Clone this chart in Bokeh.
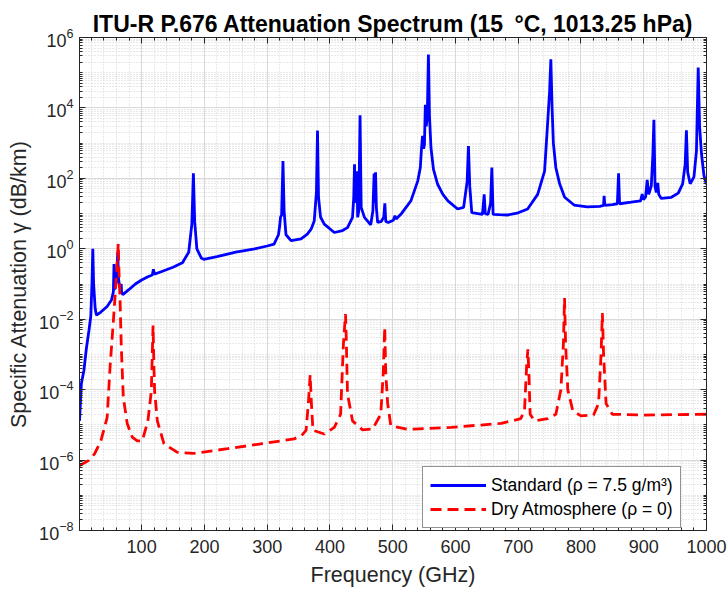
from bokeh.plotting import figure
from bokeh.models import (Range1d, FixedTicker, LinearAxis, LogAxis, Legend, LegendItem,
                          CustomJSTickFormatter)
from bokeh.embed import file_html
from bokeh.resources import INLINE

# ---------------- data ----------------
std_freq = [1, 4, 8, 12, 16, 19, 21, 22.2, 23.5, 26, 28, 35, 45, 52, 55, 56, 57, 59, 60.5,
            62, 63, 65, 67.5, 68, 70, 80, 90, 100, 110, 117, 118.75, 120.5, 130, 150, 165,
            175, 180, 182.5, 184.5, 188, 195, 199, 220, 250, 280, 300, 311, 318, 320, 321.2,
            323, 325.2, 327, 330, 338, 354, 364, 370, 375, 378.5, 380.2, 381.8, 385, 391, 407,
            420, 428, 436, 438, 439.2, 440.5, 441.5, 443, 444.2, 446, 448, 449.8, 455, 465,
            468.5, 470.4, 471.6, 472.7, 474, 476, 482, 485.8, 487.5, 489, 493, 501, 503.6,
            505.5, 513, 529, 540, 544, 546, 547.6, 549.2, 550.6, 552, 553.5, 555.2, 556.9,
            558.6, 561, 565, 571.6, 580, 588, 603.5, 613, 618.6, 620.7, 622.8, 626, 643,
            645.8, 647.5, 652, 656, 658, 660, 670, 683, 700, 715, 731, 742, 747, 750, 752.0,
            754, 756, 760, 766, 774, 789, 810, 830, 836, 836.9, 838, 850, 858, 859.9, 861.5,
            880, 895, 897.5, 899.5, 903, 905.5, 908, 912, 914.5, 916.2, 918, 920, 922.3, 924,
            928, 944, 955, 962, 966, 968, 970, 974, 980, 984, 986.8, 989, 992, 996, 1000]
std_gamma = [1.3e-5, 1.5e-4, 3.5e-4, 1.5e-3, 4.7e-3, 1.2e-2, 0.12, 1.0, 0.1, 0.02, 0.013,
             0.016, 0.023, 0.035, 0.06, 0.37, 0.07, 0.1, 0.2, 0.8, 0.15, 0.08, 0.1, 0.06,
             0.05, 0.07, 0.1, 0.13, 0.16, 0.18, 0.26, 0.19, 0.22, 0.3, 0.4, 0.8, 5, 140, 6,
             1.0, 0.55, 0.5, 0.6, 0.8, 1.0, 1.2, 1.35, 2.5, 4.5, 7.8, 9, 310, 12, 2.5, 1.7,
             1.9, 2.6, 3.6, 6.2, 40, 2300, 30, 8, 5, 2.9, 3.3, 4, 7.8, 30, 250, 20, 30, 160,
             7.8, 12, 6200, 15, 7.8, 4.8, 12, 138, 20, 148, 15, 5.6, 6, 8, 19.5, 6, 5.6, 6.5,
             8.7, 7, 9.5, 23, 85, 200, 740, 1600, 700, 900, 12300, 3000, 6000, 3.3e5, 6000,
             740, 180, 68, 35, 23, 13.5, 15, 80, 830, 60, 10.7, 9.5, 35, 10, 9.5, 20, 204, 9.5,
             9.3, 9.1, 10.5, 13.5, 35, 160, 4000, 30000, 2.4e5, 10000, 1000, 200, 70, 29, 17.5,
             15.5, 16, 17, 32, 17, 18, 19, 140, 19, 21, 23, 36, 25, 30, 90, 35, 60, 450, 4600,
             60, 40, 75, 35, 27, 29, 38, 70, 250, 2300, 150, 70, 110, 600, 1.4e5, 3000, 500,
             120, 68]

dry_freq = [1, 16, 25, 35, 45, 50, 52, 55, 57.5, 60, 61.5, 62.8, 64, 65.5, 67.6, 70.8, 77, 85,
            93, 101, 110, 115.4, 118.2, 119.5, 120.7, 125, 135.6, 157, 183, 237, 290, 343, 355,
            362, 366, 368.5, 370.5, 373, 391, 407, 417, 421.5, 424.8, 426, 428, 436, 452, 468,
            481, 485, 487.3, 489, 492, 497, 524, 593, 673, 704, 710, 713.5, 715.4, 717, 719,
            726, 747, 760, 768, 772, 773.8, 775.5, 779, 787, 800, 820, 828, 832, 834.1, 836,
            840, 850, 900, 1000]
dry_gamma = [7e-7, 9.8e-7, 1.5e-6, 3.5e-6, 1.6e-5, 5.4e-4, 1.6e-3, 9e-3, 4.2e-2, 0.19, 0.6,
             1.4, 0.2, 4.2e-2, 1.6e-3, 6e-5, 1.1e-5, 4.5e-6, 3.5e-6, 3.5e-6, 1.3e-5, 9e-5,
             6.6e-3, 5e-4, 9e-5, 1.3e-5, 2.9e-6, 1.66e-6, 1.55e-6, 2.1e-6, 2.9e-6, 4e-6, 5e-6,
             7e-6, 5e-5, 2.6e-4, 4e-5, 7e-6, 5.5e-6, 8.5e-6, 2e-5, 2e-3, 1.4e-2, 3e-3, 7.6e-5,
             1.3e-5, 7.2e-6, 7.6e-6, 2e-5, 3e-4, 5.9e-3, 3e-4, 4e-5, 9.5e-6, 7.4e-6, 8.5e-6,
             1.1e-5, 1.5e-5, 2.5e-5, 5e-4, 1.4e-3, 3e-4, 2e-5, 1.3e-5, 1.5e-5, 2e-5, 1e-4,
             2e-3, 4e-2, 2e-3, 1e-4, 2.5e-5, 1.8e-5, 1.9e-5, 4e-5, 1e-3, 1.5e-2, 1e-3, 4e-5,
             2e-5, 1.9e-5, 2e-5]

x_ticks = [100, 200, 300, 400, 500, 600, 700, 800, 900, 1000]
x_minor = [v for v in range(20, 1000, 20) if v % 100 != 0]
y_exponents = [-8, -6, -4, -2, 0, 2, 4, 6]
y_ticks = [10.0 ** e for e in y_exponents]
y_minor = [k * 10.0 ** e for e in range(-8, 6) for k in range(1, 10)
           if not (k == 1 and e in y_exponents)]

series_names = ["Standard (\u03c1 = 7.5 g/m\u00b3)", "Dry Atmosphere (\u03c1 = 0)"]
title_text = "ITU-R P.676 Attenuation Spectrum (15\u2002\u00b0C, 1013.25 hPa)"

# ---------------- figure ----------------
AX = "#262626"
FONT = "Liberation Sans"

p = figure(width=727, height=597, y_axis_type="log", output_backend="svg",
           toolbar_location=None, x_range=Range1d(1, 1000), y_range=Range1d(1e-8, 1e6),
           min_border_left=79, min_border_right=21, min_border_top=37, min_border_bottom=67)

p.title.text = title_text
p.title.align = "center"
p.title.text_font = FONT
p.title.text_font_size = "23px"
p.title.text_font_style = "bold"
p.title.text_color = "black"
p.title.standoff = 1

p.outline_line_color = AX
p.outline_line_width = 1
p.background_fill_color = "white"

xt = FixedTicker(ticks=x_ticks, minor_ticks=x_minor)
yt = FixedTicker(ticks=y_ticks, minor_ticks=y_minor)

for ax in p.xaxis:
    ax.ticker = xt
for ax in p.yaxis:
    ax.ticker = yt

def style_axis(ax):
    ax.major_tick_in = 6
    ax.major_tick_out = 0
    ax.minor_tick_in = 3
    ax.minor_tick_out = 0
    ax.axis_line_color = AX
    ax.major_tick_line_color = AX
    ax.minor_tick_line_color = AX
    ax.major_label_text_font = FONT
    ax.major_label_text_font_size = "18px"
    ax.major_label_text_color = AX
    ax.axis_label_text_font = FONT
    ax.axis_label_text_font_size = "21.5px"
    ax.axis_label_text_font_style = "normal"
    ax.axis_label_text_color = AX

style_axis(p.xaxis[0])
style_axis(p.yaxis[0])
p.xaxis[0].axis_label = "Frequency (GHz)"
p.xaxis[0].major_label_standoff = 9
p.xaxis[0].axis_label_standoff = 7
p.yaxis[0].axis_label = "Specific Attenuation \u03b3 (dB/km)"
p.yaxis[0].major_label_standoff = 6
p.yaxis[0].axis_label_standoff = 5

blank = CustomJSTickFormatter(code="return ''")
top = LinearAxis(ticker=xt, formatter=blank, major_label_standoff=0)
right = LogAxis(ticker=yt, formatter=blank, major_label_standoff=0)
style_axis(top)
style_axis(right)
top.major_label_text_font_size = "1px"
right.major_label_text_font_size = "1px"
p.add_layout(top, "above")
p.add_layout(right, "right")

p.xgrid.grid_line_color = "#d9d9d9"
p.ygrid.grid_line_color = "#d9d9d9"
p.xgrid.minor_grid_line_color = "#cfcfcf"
p.ygrid.minor_grid_line_color = "#cfcfcf"
p.xgrid.minor_grid_line_dash = "1 2"
p.ygrid.minor_grid_line_dash = "1 2"
p.xgrid.minor_grid_line_alpha = 0.9
p.ygrid.minor_grid_line_alpha = 0.9

r_std = p.line(std_freq, std_gamma, line_color="#0000ff", line_width=2.8)
r_dry = p.line(dry_freq, dry_gamma, line_color="#ff0000", line_width=2.8, line_dash="11 6")

legend = Legend(items=[LegendItem(label=series_names[0], renderers=[r_std]),
                       LegendItem(label=series_names[1], renderers=[r_dry])],
                location=(343, 2), glyph_width=56, glyph_height=22, label_standoff=5,
                label_text_font=FONT, label_text_font_size="17.5px", label_text_color="black",
                border_line_color=AX, border_line_width=1, background_fill_alpha=1,
                padding=7, spacing=2, margin=0, label_height=22)
p.add_layout(legend, "center")

open("out.html", "w").write(file_html(p, INLINE))
